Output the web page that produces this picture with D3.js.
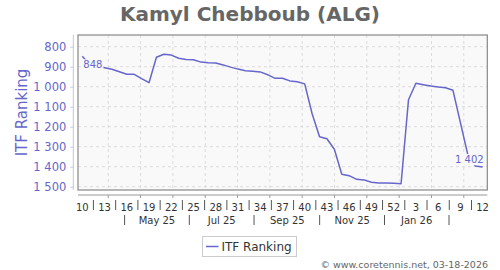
<!DOCTYPE html>
<html>
<head>
<meta charset="utf-8">
<script src="https://cdn.jsdelivr.net/npm/d3@7"></script>
<style>
  body { margin: 0; background: #fff; }
  text { font-family: "DejaVu Sans", sans-serif; }
</style>
</head>
<body>
<svg id="chart" width="500" height="270"></svg>
<script>
// weekly ITF ranking, week 10 (2025) .. week 12 (2026)
const ranks = [848, 890, 900, 905, 913, 925, 938, 938, 960, 980,
  853, 838, 842, 858, 864, 865, 877, 880, 882, 891,
  902, 912, 920, 923, 926, 940, 958, 958, 971, 975,
  986, 1135, 1250, 1260, 1313, 1438, 1445, 1463, 1466, 1478,
  1482, 1482, 1483, 1485, 1065, 983, 990, 997, 1002, 1005,
  1018, 1180, 1340, 1396, 1402];
const weekLabels = ["10", "13", "16", "19", "22", "25", "28", "31", "34", "37",
  "40", "43", "46", "49", "52", "3", "6", "9", "12"];
const monthLabels = ["May 25", "Jul 25", "Sep 25", "Nov 25", "Jan 26"];
const monthAt = [10.07, 18.8, 27.65, 36.4, 45.1]; // week index of month label centre
const rankTicks = [800, 900, 1000, 1100, 1200, 1300, 1400, 1500];

const svg = d3.select("#chart");
const plot = {left: 78, right: 487.3, top: 35, bottom: 190};
const lineColor = "#6666cc";

let x = d3.scaleLinear().domain([-0.58, 54.63]).range([plot.left, plot.right]);
let y = d3.scaleLinear().domain([741.5, 1516.5]).range([plot.top, plot.bottom]);
const fmt = v => d3.format(",")(v).replace(",", " ");

// title
svg.append("text")
  .attr("x", 250).attr("y", 21)
  .attr("text-anchor", "middle")
  .attr("font-size", 20).attr("font-weight", "bold")
  .attr("fill", "#666")
  .text("Kamyl Chebboub (ALG)");

// plot background
svg.append("rect")
  .attr("x", plot.left).attr("y", plot.top)
  .attr("width", plot.right - plot.left).attr("height", plot.bottom - plot.top)
  .attr("fill", "#f9f9f9");

// grid
let gridX = d3.range(3.5, 54, 4.36);
svg.append("g").selectAll("line")
  .data(gridX).join("line")
    .attr("x1", d => x(d)).attr("x2", d => x(d))
    .attr("y1", plot.top).attr("y2", plot.bottom)
    .attr("stroke", "#dcdcdc").attr("stroke-dasharray", "3,3");
svg.append("g").selectAll("line")
  .data(rankTicks).join("line")
    .attr("x1", plot.left).attr("x2", plot.right)
    .attr("y1", d => y(d)).attr("y2", d => y(d))
    .attr("stroke", "#dcdcdc").attr("stroke-dasharray", "3,3");

// line
let line = d3.line().x((d, i) => x(i)).y(d => y(d));
svg.append("path")
  .datum(ranks)
  .attr("d", line)
  .attr("fill", "none")
  .attr("stroke", lineColor)
  .attr("stroke-width", 1.5)
  .attr("stroke-linejoin", "round");

// first / last value labels
let last = ranks.length - 1;
let labels = [
  {i: 0, v: ranks[0], anchor: "start", dx: 1, dy: 9},
  {i: last, v: ranks[last], anchor: "end", dx: 1, dy: -7}
];
labels.forEach(function(l) {
  let t = svg.append("text")
    .attr("x", x(l.i) + l.dx).attr("y", y(l.v) + l.dy)
    .attr("text-anchor", l.anchor)
    .attr("dominant-baseline", "middle")
    .attr("font-size", 10).attr("fill", lineColor)
    .text(fmt(l.v));
  let b = t.node().getBBox();
  svg.insert("rect", () => t.node())
    .attr("x", b.x - 1).attr("y", b.y)
    .attr("width", b.width + 2).attr("height", b.height)
    .attr("fill", "#f9f9f9");
});

// plot border
svg.append("rect")
  .attr("x", plot.left).attr("y", plot.top)
  .attr("width", plot.right - plot.left).attr("height", plot.bottom - plot.top)
  .attr("fill", "none").attr("stroke", "#888").attr("stroke-width", 1.2);

// y axis
let yAxis = svg.append("g")
  .attr("transform", "translate(73.3,0)")
  .call(d3.axisLeft(y).tickValues(rankTicks).tickSize(3).tickPadding(4).tickFormat(fmt));
yAxis.select(".domain").attr("stroke", "#c4c4e4").attr("d", `M0,${plot.top}V${plot.bottom}`);
yAxis.selectAll(".tick line").attr("stroke", "#c4c4e4");
yAxis.selectAll(".tick text")
  .attr("font-family", "DejaVu Sans").attr("font-size", 11.5).attr("fill", lineColor);

svg.append("text")
  .attr("transform", `translate(22,${(plot.top + plot.bottom) / 2}) rotate(-90)`)
  .attr("text-anchor", "middle").attr("dominant-baseline", "middle")
  .attr("font-size", 15).attr("fill", lineColor)
  .text("ITF Ranking");

// x axis
let xAxis = svg.append("g");
xAxis.append("line")
  .attr("x1", plot.left).attr("x2", plot.right)
  .attr("y1", 195).attr("y2", 195)
  .attr("stroke", "#999");
xAxis.selectAll("line.tick")
  .data(gridX).join("line").attr("class", "tick")
    .attr("x1", d => x(d)).attr("x2", d => x(d))
    .attr("y1", 195).attr("y2", 198)
    .attr("stroke", "#999");
xAxis.selectAll("text.week")
  .data(weekLabels).join("text").attr("class", "week")
    .attr("x", (d, i) => x(i * 3)).attr("y", 211)
    .attr("text-anchor", "middle")
    .attr("font-size", 10).attr("fill", "#333")
    .text(d => d);
xAxis.selectAll("line.wsep")
  .data(weekLabels.slice(1)).join("line").attr("class", "wsep")
    .attr("x1", (d, i) => x(i * 3 + 1.5)).attr("x2", (d, i) => x(i * 3 + 1.5))
    .attr("y1", 200).attr("y2", 210)
    .attr("stroke", "#555");

let half = (monthAt[1] - monthAt[0]) / 2;
let monthSep = [monthAt[0] - half].concat(monthAt.map(m => m + half));
xAxis.selectAll("text.month")
  .data(monthLabels).join("text").attr("class", "month")
    .attr("x", (d, i) => x(monthAt[i])).attr("y", 224)
    .attr("text-anchor", "middle")
    .attr("font-size", 10).attr("fill", "#333")
    .text(d => d);
xAxis.selectAll("line.msep")
  .data(monthSep).join("line").attr("class", "msep")
    .attr("x1", d => x(d)).attr("x2", d => x(d))
    .attr("y1", 215).attr("y2", 225)
    .attr("stroke", "#555");

// legend
let legend = svg.append("g");
legend.append("rect")
  .attr("x", 202.5).attr("y", 236.5).attr("width", 94).attr("height", 20)
  .attr("fill", "#fff").attr("stroke", "#ccc");
legend.append("line")
  .attr("x1", 206).attr("x2", 218.5).attr("y1", 246.5).attr("y2", 246.5)
  .attr("stroke", lineColor).attr("stroke-width", 1.5);
legend.append("text")
  .attr("x", 221.5).attr("y", 251)
  .attr("font-size", 12).attr("fill", "#333")
  .text("ITF Ranking");

// credit
svg.append("text")
  .attr("x", 488).attr("y", 268)
  .attr("text-anchor", "end")
  .attr("font-size", 9.5).attr("fill", "#666")
  .text("© www.coretennis.net, 03-18-2026");
</script>
</body>
</html>
